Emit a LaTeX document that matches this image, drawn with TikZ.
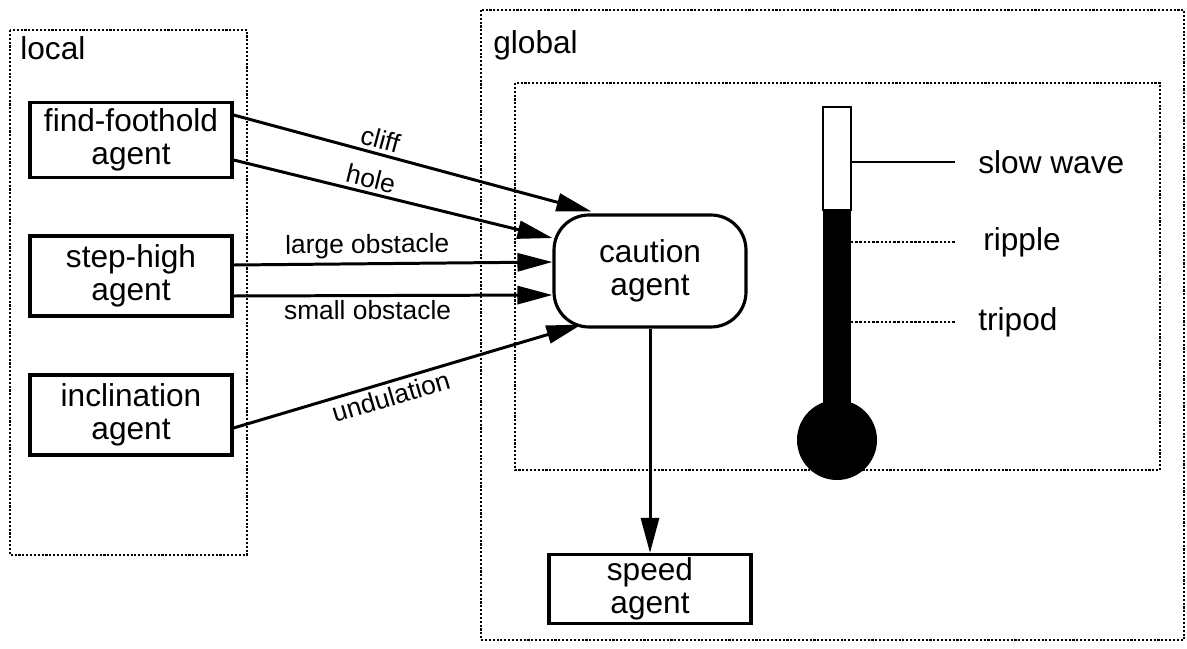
\documentclass[tikz,border=0pt]{standalone}
\usepackage{fontspec}
\setmainfont{Liberation Sans}
\usepackage{tikz}
\usetikzlibrary{arrows.meta,positioning}

\tikzset{
  agentbox/.style={draw, line width=1.8pt, align=center, minimum width=4.04cm,
    inner sep=2pt, font=\fontsize{18}{18.5}\selectfont},
  grouplabel/.style={anchor=north west, inner sep=0pt, font=\fontsize{18}{21}\selectfont},
  feed/.style={line width=1.7pt, -{Triangle[length=0.7cm,width=0.36cm]}},
  feedlabel/.style={sloped, inner sep=2pt, font=\fontsize{15}{18}\selectfont},
  gaitlabel/.style={anchor=west, inner sep=0pt, font=\fontsize{18}{21}\selectfont},
  groupframe/.style={densely dotted, line width=1.2pt}
}

\begin{document}
\begin{tikzpicture}[x=0.02cm, y=-0.02cm]
  \useasboundingbox (0,0) rectangle (1187,649);
  % frames
  \draw[groupframe] (10,30) rectangle (247,555);
  \draw[groupframe] (481,10) rectangle (1184,640);
  \draw[groupframe] (515,83) rectangle (1160,470);
  \node[grouplabel] (local) at (20,36) {local};
  \node[grouplabel] (global) at (493,30) {global};
  % local agents
  \node[agentbox, minimum height=1.5cm] (foothold) at (131,140) {find-foothold\\agent};
  \node[agentbox, minimum height=1.6cm] (stephigh) at (131,276) {step-high\\agent};
  \node[agentbox, minimum height=1.6cm] (incline) at (131,415) {inclination\\agent};
  % global agents
  \node[agentbox, minimum width=3.84cm, minimum height=2.24cm, rounded corners=0.7cm]
    (caution) at (650,271) {caution\\agent};
  \node[agentbox, minimum height=1.16cm] (speed) at (650,589) {speed\\agent};
  % signals into caution agent
  \draw[feed] ([yshift=0.5cm]foothold.east) -- node[feedlabel, above, pos=0.4] {cliff}
    ([xshift=0.78cm,yshift=0.04cm]caution.north west);
  \draw[feed] ([yshift=-0.4cm]foothold.east) -- node[feedlabel, above, pos=0.42] {hole}
    ([yshift=0.66cm]caution.west);
  \draw[feed] ([yshift=0.22cm]stephigh.east) -- node[feedlabel, above, pos=0.42] {large obstacle}
    ([yshift=0.18cm]caution.west);
  \draw[feed] ([yshift=-0.4cm]stephigh.east) -- node[feedlabel, below, pos=0.42] {small obstacle}
    ([yshift=-0.48cm]caution.west);
  \draw[feed] ([yshift=-0.26cm]incline.east) -- node[feedlabel, below, pos=0.44] {undulation}
    ([xshift=0.58cm,yshift=0.08cm]caution.south west);
  \draw[feed] (caution.south) -- (speed.north);
  % thermometer
  \fill (837,440) circle (40);
  \fill (823,210) rectangle (851,410);
  \draw[line width=1.4pt, fill=white] (823,107) rectangle (851,210);
  \node[gaitlabel] (slow) at (978,162) {slow wave};
  \node[gaitlabel] (ripple) at (983,242) {ripple};
  \node[gaitlabel] (tripod) at (978,322) {tripod};
  \draw[line width=1.4pt] (slow.west -| 851,0) -- ([xshift=-0.46cm]slow.west);
  \draw[line width=1.4pt, densely dotted] (ripple.west -| 851,0) -- ([xshift=-0.56cm]ripple.west);
  \draw[line width=1.4pt, densely dotted] (tripod.west -| 851,0) -- ([xshift=-0.46cm]tripod.west);
\end{tikzpicture}
\end{document}
